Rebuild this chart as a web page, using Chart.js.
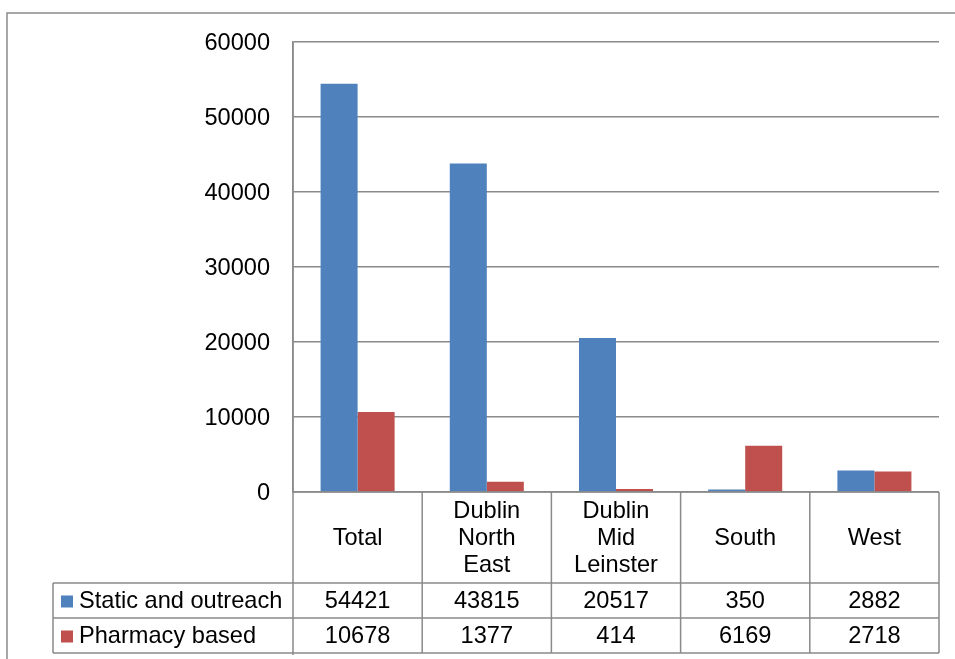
<!DOCTYPE html>
<html>
<head>
<meta charset="utf-8">
<title>Static and outreach vs pharmacy based</title>
<script src="https://cdn.jsdelivr.net/npm/chart.js@4.4.1/dist/chart.umd.min.js"></script>
<style>
  html, body { margin: 0; padding: 0; background: #fff; }
  #wrap { width: 955px; height: 659px; }
</style>
</head>
<body>
<div id="wrap"><canvas id="chart" width="955" height="659"></canvas></div>
<script>
// category labels, one entry per line of the header cell
const regions = [['Total'], ['Dublin', 'North', 'East'], ['Dublin', 'Mid', 'Leinster'], ['South'], ['West']];
const staticOutreach = [54421, 43815, 20517, 350, 2882];
const pharmacyBased = [10678, 1377, 414, 6169, 2718];
const yMax = 60000;
const yStep = 10000;

const FONT = '"Liberation Sans", Arial, sans-serif';
const FONT_SIZE = 23.6;
const LINE = '#8a8a8a';

// draws the outer frame plus the data table under the plot
const dataTable = {
  id: 'dataTable',
  afterDraw(chart) {
    const ctx = chart.ctx;
    const xs = chart.scales.x;
    const area = chart.chartArea;
    const n = regions.length;
    const colW = (area.right - area.left) / n;
    const top = area.bottom;
    const headH = 91, rowH = 35;
    const rows = [top + headH, top + headH + rowH, top + headH + 2 * rowH];
    const legendLeft = 53;

    ctx.save();
    ctx.strokeStyle = LINE;
    ctx.lineWidth = 1.5;

    // outer frame (runs off the right and bottom edges)
    ctx.beginPath();
    ctx.moveTo(7, chart.height);
    ctx.lineTo(7, 13);
    ctx.lineTo(chart.width, 13);
    ctx.stroke();

    // horizontal table lines
    ctx.beginPath();
    rows.forEach(y => { ctx.moveTo(legendLeft, y); ctx.lineTo(area.right, y); });
    ctx.moveTo(area.left, top); ctx.lineTo(area.right, top);
    // vertical lines at category edges
    for (let i = 0; i <= n; i++) {
      const xEdge = i < n ? xs.getPixelForValue(i) - colW / 2 : xs.getPixelForValue(n - 1) + colW / 2;
      ctx.moveTo(xEdge, i === 0 ? area.top : top);
      ctx.lineTo(xEdge, rows[2] + (i === 0 ? 2 : 0));
    }
    ctx.moveTo(legendLeft, rows[0]); ctx.lineTo(legendLeft, rows[2]);
    ctx.stroke();

    ctx.fillStyle = '#000';
    ctx.font = FONT_SIZE + 'px ' + FONT;
    ctx.textAlign = 'center';
    ctx.textBaseline = 'middle';

    // category header cells
    const lineH = 27;
    regions.forEach((lines, i) => {
      const cx = xs.getPixelForValue(i);
      const cy = top + headH / 2 + 1;
      lines.forEach((t, k) => {
        ctx.fillText(t, cx, cy + (k - (lines.length - 1) / 2) * lineH);
      });
    });

    // series rows
    chart.data.datasets.forEach((ds, r) => {
      const cy = rows[r] + rowH / 2 + 1;
      ds.data.forEach((v, i) => {
        ctx.fillText(String(v), xs.getPixelForValue(i), cy);
      });
      ctx.fillStyle = ds.backgroundColor;
      ctx.fillRect(61, cy - 6, 12, 12);
      ctx.fillStyle = '#000';
      ctx.textAlign = 'left';
      ctx.fillText(ds.label, 79, cy);
      ctx.textAlign = 'center';
    });

    ctx.restore();
  }
};

new Chart(document.getElementById('chart'), {
  type: 'bar',
  data: {
    labels: regions,
    datasets: [
      { label: 'Static and outreach', data: staticOutreach, backgroundColor: '#4f81bd' },
      { label: 'Pharmacy based', data: pharmacyBased, backgroundColor: '#c0504d' }
    ]
  },
  options: {
    responsive: false,
    animation: false,
    layout: { padding: { left: 0, top: 42, right: 16, bottom: 167 } },
    datasets: {
      bar: { categoryPercentage: 0.573, barPercentage: 1 }
    },
    scales: {
      x: { display: false },
      y: {
        min: 0,
        max: yMax,
        afterFit: scale => { scale.width = 293; },
        ticks: {
          stepSize: yStep,
          padding: 23,
          labelOffset: 1.5,
          color: '#000',
          font: { family: FONT, size: FONT_SIZE },
          callback: v => String(v)
        },
        grid: { color: LINE, lineWidth: 1.5, drawTicks: false },
        border: { display: true, color: LINE, width: 1.5 }
      }
    },
    plugins: {
      legend: { display: false },
      tooltip: { enabled: false }
    }
  },
  plugins: [dataTable]
});
</script>
</body>
</html>
